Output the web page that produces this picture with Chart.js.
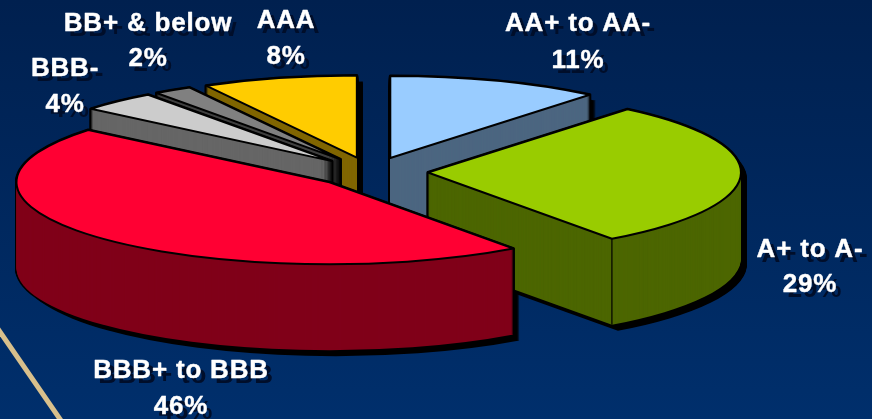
<!DOCTYPE html>
<html lang="en">

<head>
    <meta charset="UTF-8">
    <title>Rating breakdown</title>
    <style>
        html, body { margin: 0; padding: 0; background: #fff; }
        #pizza { display: block; }
    </style>
</head>

<body>
    <canvas id="pizza" width="872" height="419"></canvas>

    <script src="https://cdn.jsdelivr.net/npm/chart.js"></script>
    <script>
        // data
        const categorias = ['AA+ to AA-', 'A+ to A-', 'BBB+ to BBB', 'BBB-', 'BB+ & below', 'AAA'];
        const valores = [11, 29, 46, 4, 2, 8];

        // colours
        const coresTopo = ['#99CCFF', '#99CC00', '#FF0033', '#CCCCCC', '#808080', '#FFCC00'];
        const coresLado = ['#4C6680', '#4C6600', '#800019', '#666666', '#404040', '#806600'];

        // where each label sits on the slide: center x, first baseline, second baseline
        const posRotulos = [[578, 31, 68], [810, 257, 292], [181, 378, 414], [65, 76, 112], [148, 31, 66], [286, 28, 64]];

        // the fake 3D look
        const centroX = 371, centroY = 172;
        const raioX = 313, raioY = 82;
        const altura = 86;
        const explosao = 0.182;
        const sombra = 6;
        const ordemDesenho = [0, 5, 4, 3, 1, 2];

        function posicionar(ctx, arco, dx, dy) {
            const kx = raioX / arco.outerRadius;
            const ky = raioY / arco.outerRadius;
            const meio = (arco.startAngle + arco.endAngle) / 2;
            const d = explosao * arco.outerRadius;
            ctx.translate(centroX + dx, centroY + dy);
            ctx.scale(kx, ky);
            ctx.translate(Math.cos(meio) * d - arco.x, Math.sin(meio) * d - arco.y);
        }

        // path is built in the squashed space, so it gets stroked with an even line after the restore
        function caminho(ctx, arco, dx, dy) {
            ctx.save();
            posicionar(ctx, arco, dx, dy);
            ctx.beginPath();
            ctx.moveTo(arco.x, arco.y);
            ctx.arc(arco.x, arco.y, arco.outerRadius, arco.startAngle, arco.endAngle);
            ctx.closePath();
            ctx.restore();
        }

        function desenharArco(ctx, arco, cor, dx, dy) {
            const original = arco.options;
            arco.options = { ...original, backgroundColor: cor, borderWidth: 0 };
            ctx.save();
            posicionar(ctx, arco, dx, dy);
            arco.draw(ctx);
            ctx.restore();
            arco.options = original;
        }

        function desenharFatia(ctx, arco, i) {
            ctx.strokeStyle = '#000';
            ctx.lineWidth = 3;
            ctx.lineJoin = 'round';

            for (let t = altura; t >= 0; t--) {
                caminho(ctx, arco, 0, t);
                ctx.stroke();
            }
            for (let t = altura; t >= 0; t--) {
                desenharArco(ctx, arco, coresLado[i], 0, t);
            }

            // vertical edge only where a rim corner faces the viewer
            ctx.lineWidth = 1.2;
            [arco.startAngle, arco.endAngle].forEach(function (a) {
                if (Math.sin(a) <= 0) return;
                ctx.save();
                posicionar(ctx, arco, 0, 0);
                const p = ctx.getTransform().transformPoint({
                    x: arco.x + Math.cos(a) * arco.outerRadius,
                    y: arco.y + Math.sin(a) * arco.outerRadius
                });
                ctx.restore();
                ctx.beginPath();
                ctx.moveTo(p.x, p.y);
                ctx.lineTo(p.x, p.y + altura);
                ctx.stroke();
            });

            desenharArco(ctx, arco, coresTopo[i], 0, 0);
            ctx.lineWidth = 2;
            caminho(ctx, arco, 0, 0);
            ctx.stroke();
        }

        function escrever(ctx, texto, x, y) {
            ctx.fillStyle = '#000E2A';
            ctx.fillText(texto, x + 5, y + 5);
            ctx.fillStyle = '#FFFFFF';
            ctx.strokeStyle = '#FFFFFF';
            ctx.lineWidth = 0.4;
            ctx.fillText(texto, x, y);
            ctx.strokeText(texto, x, y);
        }

        const fundo = {
            id: 'fundo',
            beforeDraw(chart) {
                const ctx = chart.ctx;
                const grad = ctx.createLinearGradient(0, 0, 0, chart.height);
                grad.addColorStop(0, '#00204F');
                grad.addColorStop(1, '#002F6C');
                ctx.fillStyle = grad;
                ctx.fillRect(0, 0, chart.width, chart.height);

                ctx.strokeStyle = '#D8C08C';
                ctx.lineWidth = 5;
                ctx.beginPath();
                ctx.moveTo(-2, 329);
                ctx.lineTo(62, 422);
                ctx.stroke();
            }
        };

        const pizza3d = {
            id: 'pizza3d',
            beforeDatasetsDraw(chart) {
                const ctx = chart.ctx;
                const arcos = chart.getDatasetMeta(0).data;

                // drop shadow goes under every slice
                ordemDesenho.forEach(function (i) {
                    for (let t = altura; t >= 0; t--) {
                        desenharArco(ctx, arcos[i], '#000', sombra, sombra + t);
                    }
                });

                ordemDesenho.forEach(function (i) {
                    desenharFatia(ctx, arcos[i], i);
                });

                ctx.font = 'bold 26px "Liberation Sans", Arial, sans-serif';
                ctx.letterSpacing = '0.8px';
                ctx.textAlign = 'center';
                ctx.textBaseline = 'alphabetic';
                categorias.forEach(function (nome, i) {
                    escrever(ctx, nome, posRotulos[i][0], posRotulos[i][1]);
                    escrever(ctx, valores[i] + '%', posRotulos[i][0], posRotulos[i][2]);
                });

                return false;
            }
        };

        new Chart(document.getElementById('pizza'), {
            type: 'pie',
            data: {
                labels: categorias,
                datasets: [{
                    data: valores,
                    backgroundColor: coresTopo,
                    borderWidth: 0
                }]
            },
            options: {
                responsive: false,
                animation: false,
                plugins: {
                    legend: { display: false },
                    tooltip: { enabled: false }
                }
            },
            plugins: [fundo, pizza3d]
        });
    </script>
</body>

</html>
